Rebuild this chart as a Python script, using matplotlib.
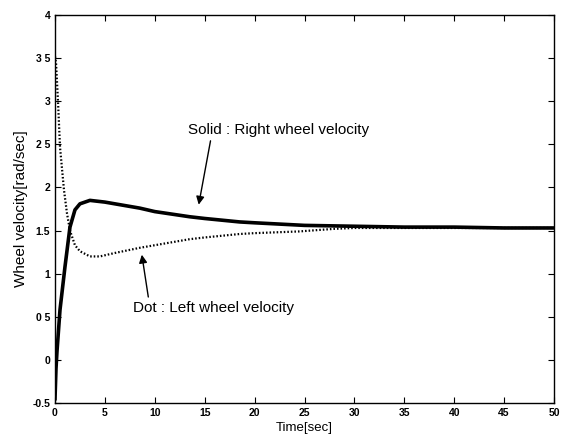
import matplotlib
matplotlib.use("Agg")
import matplotlib.pyplot as plt

# Right wheel (solid)
t_right = [0, 0.1, 0.2, 0.5, 1.0, 1.5, 2.0, 2.5, 3.5, 5, 7, 8.5, 10, 13.5, 15, 18.5, 20, 25, 30, 35, 40, 45, 50]
v_right = [-0.45, -0.1, 0.1, 0.58, 1.08, 1.54, 1.74, 1.81, 1.85, 1.83, 1.79, 1.76, 1.72, 1.66, 1.64, 1.60, 1.59, 1.56, 1.55, 1.54, 1.54, 1.53, 1.53]

# Left wheel (dotted)
t_left = [0, 0.1, 0.3, 0.5, 0.9, 1.2, 1.5, 2.0, 2.5, 3.5, 4.5, 6, 8.5, 10, 13.5, 15, 18.5, 20, 24.5, 28, 30, 35, 40, 50]
v_left = [3.52, 3.45, 3.0, 2.47, 1.97, 1.7, 1.5, 1.33, 1.26, 1.2, 1.2, 1.24, 1.30, 1.33, 1.40, 1.42, 1.46, 1.47, 1.49, 1.52, 1.53, 1.53, 1.53, 1.53]

x_ticks = [0, 5, 10, 15, 20, 25, 30, 35, 40, 45, 50]
y_ticks = [-0.5, 0, 0.5, 1, 1.5, 2, 2.5, 3, 3.5, 4]
y_tick_labels = ["-0.5", "0", "0 5", "1", "1.5", "2", "2 5", "3", "3 5", "4"]

plt.rcParams['font.family'] = ['Liberation Sans', 'DejaVu Sans']

fig = plt.figure(figsize=(5.67, 4.43), dpi=100)
ax = fig.add_axes([55/567, 1-403/443, (554-55)/567, (403-15)/443])

ax.plot(t_right, v_right, color='black', lw=2.6, solid_joinstyle='round')
ax.plot(t_left, v_left, color='black', lw=1.6, linestyle=(0, (0.7, 0.9)))

ax.set_xlim(0, 50)
ax.set_ylim(-0.5, 4)
ax.set_xticks(x_ticks)
ax.set_xticklabels([str(x) for x in x_ticks], fontweight='bold')
ax.set_yticks(y_ticks)
ax.set_yticklabels(y_tick_labels, fontweight='bold')
ax.tick_params(direction='in', top=True, right=True, length=4, width=0.8, labelsize=7.5)
for s in ax.spines.values():
    s.set_linewidth(1.0)

ax.set_xlabel("Time[sec]", fontsize=9.5, labelpad=3)
ax.set_ylabel("Wheel velocity[rad/sec]", fontsize=11, labelpad=3)

ax.annotate("Solid : Right wheel velocity", xy=(14.4, 1.80), xytext=(13.3, 2.67),
            fontsize=11, va='center', ha='left',
            arrowprops=dict(arrowstyle='-|>', color='black', lw=1.0, mutation_scale=12,
                            shrinkA=1, shrinkB=0,
                            relpos=(0.13, 0.0)))
ax.annotate("Dot : Left wheel velocity", xy=(8.7, 1.22), xytext=(7.8, 0.6),
            fontsize=11, va='center', ha='left',
            arrowprops=dict(arrowstyle='-|>', color='black', lw=1.0, mutation_scale=12,
                            shrinkA=1, shrinkB=0,
                            relpos=(0.1, 1.0)))

fig.savefig("out.png", dpi=100)
